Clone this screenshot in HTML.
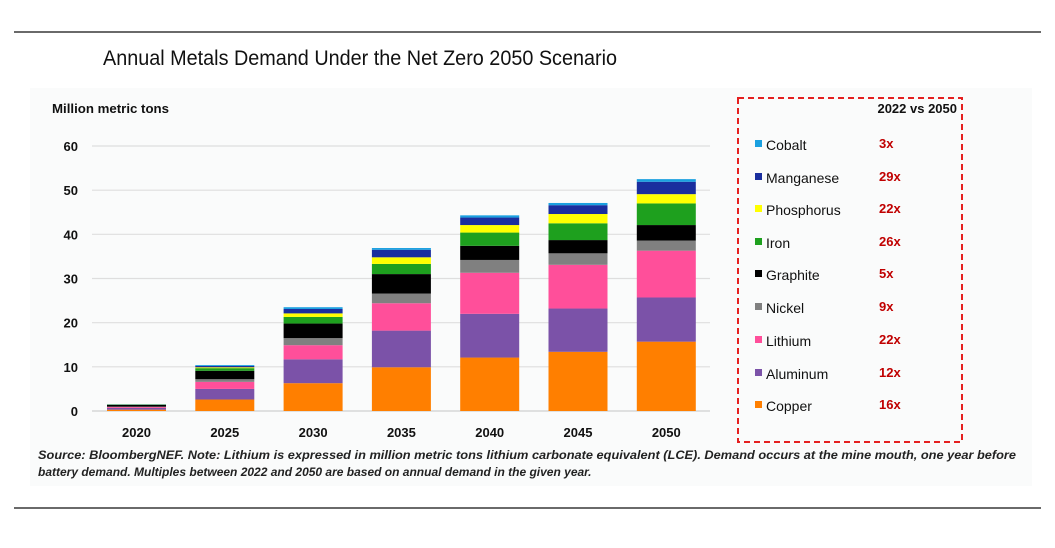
<!DOCTYPE html>
<html><head><meta charset="utf-8"><style>
html,body{margin:0;padding:0;background:#fff;}
svg{display:block;}
</style></head><body>
<svg id="s" width="1055" height="548" xmlns="http://www.w3.org/2000/svg" font-family="Liberation Sans, sans-serif">
<rect x="0" y="0" width="1055" height="548" fill="#fff"/>
<rect x="30" y="88" width="1002" height="398" fill="#fafbfb"/>
<line x1="14" y1="32" x2="1041" y2="32" stroke="#111" stroke-width="1.3"/>
<line x1="14" y1="508" x2="1041" y2="508" stroke="#111" stroke-width="1.3"/>
<text x="103" y="65" font-size="21" textLength="514" lengthAdjust="spacingAndGlyphs" fill="#111">Annual Metals Demand Under the Net Zero 2050 Scenario</text>
<text x="52" y="113" font-size="13" font-weight="bold" textLength="117" lengthAdjust="spacingAndGlyphs" fill="#111">Million metric tons</text>
<g id="grid"></g>
<g id="bars"></g>
<rect x="738" y="98" width="224" height="344" fill="none" stroke="#e52020" stroke-width="2" stroke-dasharray="6,4"/>
<text x="957" y="113" font-size="13" font-weight="bold" text-anchor="end" fill="#111">2022 vs 2050</text>
<g id="leg"></g>
<text x="38" y="459" font-size="12" font-weight="bold" font-style="italic" fill="#222" textLength="978" lengthAdjust="spacingAndGlyphs">Source: BloombergNEF. Note: Lithium is expressed in million metric tons lithium carbonate equivalent (LCE). Demand occurs at the mine mouth, one year before</text>
<text x="38" y="476" font-size="12" font-weight="bold" font-style="italic" fill="#222">battery demand. Multiples between 2022 and 2050 are based on annual demand in the given year.</text>
</svg>
<script>
var NS="http://www.w3.org/2000/svg",s=document.getElementById('s');
function el(p,t,a,tx){var e=document.createElementNS(NS,t);for(var k in a)e.setAttribute(k,a[k]);if(tx!==undefined)e.textContent=tx;document.getElementById(p).appendChild(e);}
var y0=411,k=265/60;
for(var v=0;v<=60;v+=10){var y=y0-v*k;
 if(v>0)el('grid','line',{x1:92,x2:710,y1:y,y2:y,stroke:'#dedede','stroke-width':1.2});
 el('grid','text',{x:78,y:y+5,'font-size':13,'font-weight':'bold','text-anchor':'end',fill:'#111'},v);}
el('grid','line',{x1:92,x2:710,y1:y0,y2:y0,stroke:'#cfcfcf','stroke-width':1.2});
var cols=['#ff7f00','#7b52a8','#ff4f9a','#808080','#000000','#1ea01e','#ffff00','#1a2e9e','#1aa0e0'];
var data=[[0.3,0.7,0.9,1.0,1.4,1.45,1.48,1.5,1.55],
[2.6,5.0,6.6,7.2,9.1,9.7,9.9,10.2,10.4],
[6.3,11.7,14.9,16.5,19.8,21.3,22.1,23.1,23.5],
[9.9,18.2,24.4,26.6,31.0,33.3,34.8,36.5,36.9],
[12.1,22.0,31.3,34.2,37.4,40.4,42.1,43.8,44.3],
[13.4,23.2,33.1,35.7,38.7,42.5,44.6,46.6,47.1],
[15.7,25.7,36.3,38.6,42.1,47.0,49.1,51.9,52.5]];
var yrs=['2020','2025','2030','2035','2040','2045','2050'];
for(var i=0;i<7;i++){var x=107+i*88.3,prev=0;
 for(var j=0;j<9;j++){var t=data[i][j];el('bars','rect',{x:x,y:y0-t*k,width:59,height:(t-prev)*k,fill:cols[j]});prev=t;}
 el('bars','text',{x:x+29.5,y:437,'font-size':13,'font-weight':'bold','text-anchor':'middle',fill:'#111'},yrs[i]);}
var names=['Cobalt','Manganese','Phosphorus','Iron','Graphite','Nickel','Lithium','Aluminum','Copper'];
var mult=['3x','29x','22x','26x','5x','9x','22x','12x','16x'];
var ly=[145,178,210,243,275,308,341,374,406];
for(var j=0;j<9;j++){var c=8-j;
 el('leg','rect',{x:755,y:ly[j]-5,width:7,height:7,fill:cols[c]});
 el('leg','text',{x:766,y:ly[j]+5,'font-size':14,fill:'#111'},names[j]);
 el('leg','text',{x:879,y:ly[j]+3,'font-size':13,'font-weight':'bold',fill:'#c00000'},mult[j]);}
</script>
</body></html>
